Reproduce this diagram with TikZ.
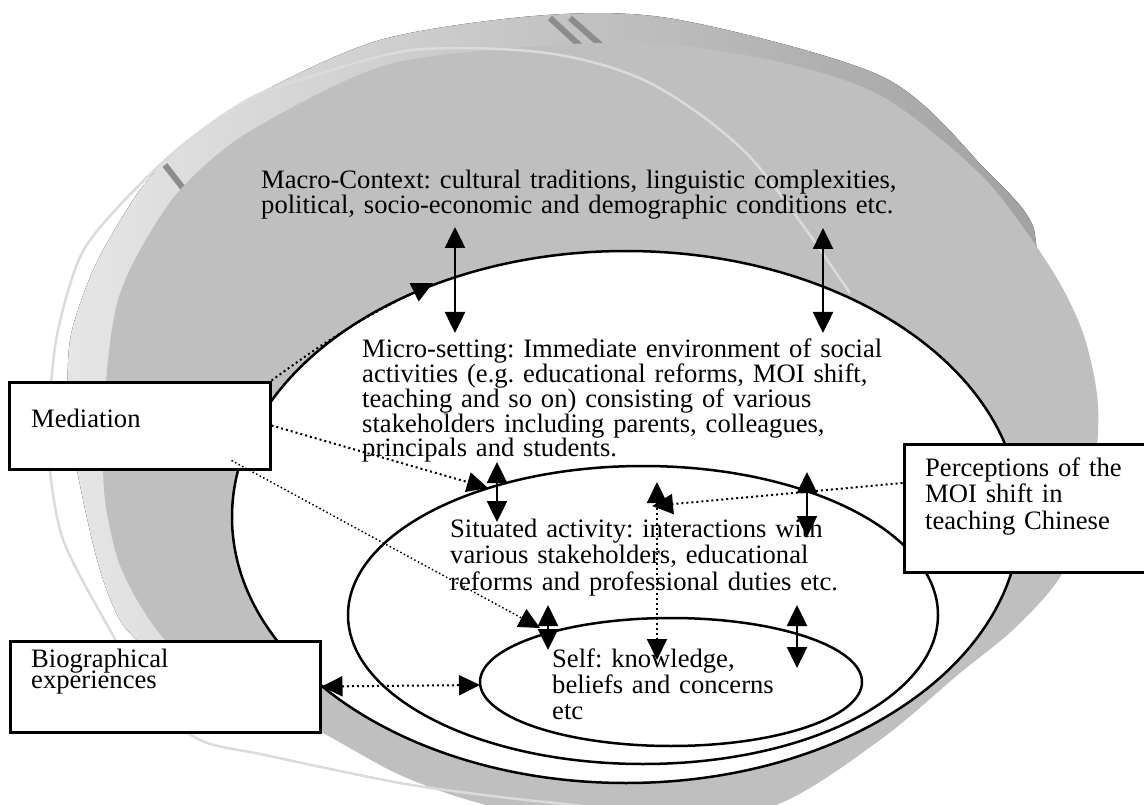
\documentclass[tikz,border=0pt]{standalone}
\usepackage{fontspec}
\setmainfont{Liberation Serif}
\usetikzlibrary{arrows.meta}
\frenchspacing

\begin{document}
\begin{tikzpicture}[
    x=1pt, y=-1pt,
    >={Triangle[width=20pt,length=21pt]},
    ring/.style={draw=black, line width=2.5pt, fill=white},
    tbox/.style={rectangle, draw=black, line width=3pt, fill=white, inner sep=0pt},
    txt/.style={anchor=base west, inner sep=0pt, align=left, text width=700pt,
        font=\fontsize{26.6}{#1}\selectfont},
    link/.style={<->, line width=2.5pt},
    dotlink/.style={line width=2pt, dash pattern=on 2pt off 3pt},
    seam/.style={line width=6pt, black!45}
]

% canvas
\path[use as bounding box, fill=white] (0,0) rectangle (1144,805);
\clip (0,0) rectangle (1144,805);

% grey disc: rim, face and highlight
\fill[left color=black!10, middle color=black!33, right color=black!37] plot[smooth cycle] coordinates {
    (175,650) (127,630) (100,570) (77,470) (68,400) (70,340) (85,290) (103,250)
    (140,190) (180,147) (247,100) (380,40) (547,15) (680,20) (883,77) (983,167)
    (1035,235) (1000,330) (700,600) (350,620)};
\draw[seam] (550,18) -- (590,55);
\draw[seam] (570,18) -- (612,55);
\draw[seam] (165,165) -- (200,210);
\fill[black!25] plot[smooth cycle] coordinates {
    (103,440) (105,500) (118,560) (140,605) (170,645) (230,690) (317,730) (400,775)
    (486,805) (630,835) (776,805) (880,740) (960,673) (1015,628) (1063,572) (1092,485)
    (1098,405) (1083,333) (1050,267) (983,177) (883,97) (780,62) (650,43) (513,48)
    (380,67) (247,133) (180,190) (140,250) (118,300) (108,360)};
\draw[black!14, line width=2.5pt] plot[smooth] coordinates {
    (850,293) (750,157) (650,83) (547,53) (413,50) (300,80) (247,100) (180,147)
    (120,205) (81,255) (58,330) (50,400) (50,470) (60,530) (77,570) (110,630)
    (150,700) (200,740) (265,755) (400,783) (500,797) (598,808) (700,825)};

% nested settings
\draw[ring] (626,517) ellipse [x radius=394pt, y radius=266pt];
\draw[ring] (643,615) ellipse [x radius=295pt, y radius=149pt];
\draw[ring] (671,682) ellipse [x radius=191pt, y radius=64pt];

% side boxes
\node[tbox, minimum width=261pt, minimum height=87pt] (med) at (139.5,425.5) {};
\node[tbox, minimum width=256pt, minimum height=128pt] (perc) at (1032,508) {};
\node[tbox, minimum width=310pt, minimum height=91pt] (bio) at (165,686.5) {};

% texts
\node[txt=25] (macro) at (261,189) {Macro-Context: cultural traditions, linguistic complexities,\\
    political, socio-economic and demographic conditions etc.};
\node[txt=25] (micro) at (362,357) {Micro-setting: Immediate environment of social\\
    activities (e.g. educational reforms, MOI shift,\\
    teaching and so on) consisting of various\\
    stakeholders including parents, colleagues,\\
    principals and students.};
\node[txt=26.5] (situated) at (450,537) {Situated activity: interactions with\\
    various stakeholders, educational\\
    reforms and professional duties etc.};
\node[txt=26] (self) at (552,667) {Self: knowledge,\\beliefs and concerns\\etc};
\node[txt=25] (medtxt) at (31,427) {Mediation};
\node[txt=26.5] (perctxt) at (925,476) {Perceptions of the\\MOI shift in\\teaching Chinese};
\node[txt=25] (biotxt) at (31,667) {Biographical\\[-4pt]experiences};

% arrow ends
\coordinate (mac1) at (455,227); \coordinate (mic1) at (455,333);
\coordinate (mac2) at (823,228); \coordinate (mic2) at (823,333);
\coordinate (mic3) at (497,462); \coordinate (sit3) at (497,522);
\coordinate (mic4) at (807,472); \coordinate (sit4) at (807,537);
\coordinate (sit5) at (548,605); \coordinate (slf5) at (548,650);
\coordinate (sit6) at (797,605); \coordinate (slf6) at (797,668);
\coordinate (sit7) at (657,482); \coordinate (slf7) at (657,660);
\coordinate (medA) at (433,283);
\coordinate (medB) at (488,488);
\coordinate (medC) at (540,628);
\coordinate (percA) at (652,506);
\coordinate (bioA) at (480,685);

% links between layers
\draw[link] (mac1) -- (mic1);
\draw[link] (mac2) -- (mic2);
\draw[link] (mic3) -- (sit3);
\draw[link] (mic4) -- (sit4);
\draw[link] (sit5) -- (slf5);
\draw[link] (sit6) -- (slf6);

% mediating influences
\draw[dotlink, <->] (sit7) -- (slf7);
\draw[dotlink, ->] (med.north east) to[bend left=5] (medA);
\draw[dotlink, ->] (med.east) -- (medB);
\draw[dotlink, line width=1.5pt, dash pattern=on 1.5pt off 2.5pt, ->] ([shift={(-40,-10)}]med.south east) -- (medC);
\draw[dotlink, ->] ([shift={(0,-25)}]perc.west) -- (percA);
\draw[dotlink, <->] (bio.east) -- (bioA);

\end{tikzpicture}
\end{document}
